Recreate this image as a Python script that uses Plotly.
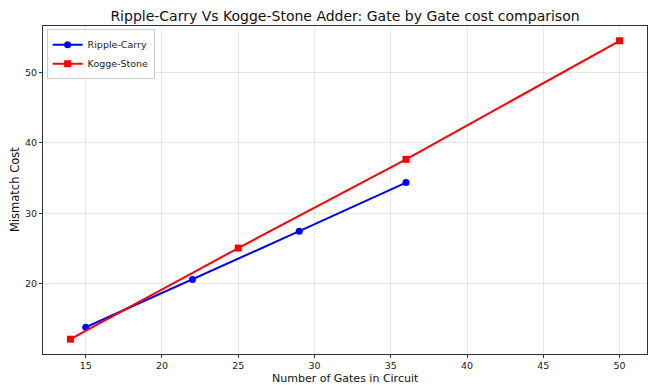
import plotly.graph_objects as go

rc_gates = [15, 22, 29, 36]
rc_cost = [13.8, 20.6, 27.45, 34.35]
ks_gates = [14, 25, 36, 50]
ks_cost = [12.1, 25.05, 37.65, 54.5]

x_ticks = [15, 20, 25, 30, 35, 40, 45, 50]
y_ticks = [20, 30, 40, 50]

fig = go.Figure()
fig.add_trace(go.Scatter(x=rc_gates, y=rc_cost, mode="lines+markers", name="Ripple-Carry",
                         line=dict(color="#0000ff", width=2), marker=dict(symbol="circle", size=7, color="#0000ff")))
fig.add_trace(go.Scatter(x=ks_gates, y=ks_cost, mode="lines+markers", name="Kogge-Stone",
                         line=dict(color="#ff0000", width=2), marker=dict(symbol="square", size=7, color="#ff0000")))

font = "DejaVu Sans"
fig.update_layout(
    width=652, height=385,
    margin=dict(l=43, r=5, t=26, b=31),
    paper_bgcolor="white", plot_bgcolor="white",
    font=dict(family=font, color="#222222", size=10),
    title=dict(text="Ripple-Carry Vs Kogge-Stone Adder: Gate by Gate cost comparison",
               x=0.5, xref="paper", xanchor="center", y=1 - 16 / 385, yref="container", yanchor="middle",
               font=dict(size=14, family=font, color="#111111")),
    legend=dict(x=0.006, y=0.99, xanchor="left", yanchor="top", bgcolor="rgba(255,255,255,0.8)",
                bordercolor="#cccccc", borderwidth=1, font=dict(size=9.5, family=font),
                tracegroupgap=0, itemwidth=30),
    showlegend=True,
    annotations=[
        dict(text="Number of Gates in Circuit", xref="paper", yref="paper", x=0.5, y=-24 / 328,
             xanchor="center", yanchor="middle", showarrow=False,
             font=dict(size=11, family=font, color="#111111")),
        dict(text="Mismatch Cost", xref="paper", yref="paper", x=-28 / 604, y=0.5, textangle=-90,
             xanchor="center", yanchor="middle", showarrow=False,
             font=dict(size=11.5, family=font, color="#111111")),
    ],
)
fig.update_xaxes(range=[12.2, 51.8], tickvals=x_ticks, showgrid=True, gridcolor="rgba(0,0,0,0.09)",
                 zeroline=False, showline=True, linecolor="#333333", linewidth=1, mirror=True,
                 ticks="outside", ticklen=3, tickcolor="#333333", automargin=False,
                 tickfont=dict(size=9.5))
fig.update_yaxes(range=[10.0, 56.6], tickvals=y_ticks, showgrid=True, gridcolor="rgba(0,0,0,0.09)",
                 zeroline=False, showline=True, linecolor="#333333", linewidth=1, mirror=True,
                 ticks="outside", ticklen=3, tickcolor="#333333", automargin=False,
                 tickfont=dict(size=9.5))

fig.write_html("out.html")
